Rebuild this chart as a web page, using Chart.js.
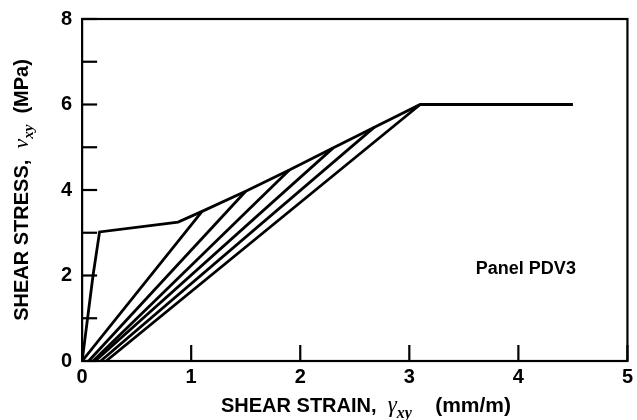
<!DOCTYPE html>
<html>
<head>
<meta charset="utf-8">
<script src="https://cdn.jsdelivr.net/npm/chart.js@4/dist/chart.umd.min.js"></script>
<style>
  html, body { margin: 0; padding: 0; background: #fff; }
  #wrap { width: 637px; height: 420px; }
</style>
</head>
<body>
<div id="wrap"><canvas id="shear"></canvas></div>
<script>
// envelope (loading) curve
const envStrain = [0, 0.05, 0.10, 0.16, 0.88, 1.10, 1.50, 1.90, 2.30, 2.68, 3.10, 4.50];
const envStress = [0, 1.00, 2.00, 3.02, 3.25, 3.50, 3.97, 4.47, 4.98, 5.47, 6.00, 6.00];

// unloading branches: peak -> residual strain at zero stress
const unloadPeakStrain = [1.10, 1.50, 1.90, 2.30, 2.68, 3.10];
const unloadPeakStress = [3.50, 3.97, 4.47, 4.98, 5.47, 6.00];
const unloadEndStrain  = [0.00, 0.06, 0.10, 0.12, 0.17, 0.22];

const xTicks = [0, 1, 2, 3, 4, 5];
const yTicks = [0, 1, 2, 3, 4, 5, 6, 7, 8];
const yLabelled = [0, 2, 4, 6, 8];

const panelLabel = 'Panel PDV3';

const sans = '"Liberation Sans", Arial, sans-serif';
const serif = '"Liberation Serif", "DejaVu Serif", serif';

function pts(xs, ys) {
  return xs.map((x, i) => ({ x: x, y: ys[i] }));
}

const datasets = [
  { data: pts(envStrain, envStress) }
];
for (let i = 0; i < unloadPeakStrain.length; i++) {
  datasets.push({ data: [
    { x: unloadPeakStrain[i], y: unloadPeakStress[i] },
    { x: unloadEndStrain[i], y: 0 }
  ] });
}
datasets.forEach(d => {
  d.borderColor = '#000';
  d.borderWidth = 2.8;
  d.pointRadius = 0;
  d.fill = false;
  d.tension = 0;
});

// draws box, inward ticks, axis titles and panel label
const decor = {
  id: 'decor',
  afterDraw(chart) {
    const ctx = chart.ctx;
    const a = chart.chartArea;
    const xs = chart.scales.x, ys = chart.scales.y;
    ctx.save();
    ctx.strokeStyle = '#000';
    ctx.lineWidth = 2.2;
    ctx.strokeRect(a.left, a.top, a.right - a.left, a.bottom - a.top);
    for (const v of xTicks) {
      const px = xs.getPixelForValue(v);
      ctx.beginPath(); ctx.moveTo(px, a.bottom); ctx.lineTo(px, a.bottom - 16); ctx.stroke();
    }
    for (const v of yTicks) {
      const py = ys.getPixelForValue(v);
      ctx.beginPath(); ctx.moveTo(a.left, py); ctx.lineTo(a.left + 15, py); ctx.stroke();
    }

    ctx.fillStyle = '#000';
    ctx.textBaseline = 'alphabetic';
    // x title
    const xSeg = [
      ['SHEAR STRAIN,  ', 'bold 20px ' + sans, 0],
      ['\u03B3', 'italic 23px ' + serif, 0],
      ['xy', 'italic bold 16px ' + serif, 6],
      ['    (mm/m)', 'bold 21px ' + sans, 0]
    ];
    drawSegs(ctx, xSeg, 366, 412, 0);
    // y title
    const ySeg = [
      ['SHEAR STRESS,  ', 'bold 20px ' + sans, 0],
      ['v', 'italic 22px ' + serif, 0],
      ['xy', 'italic bold 15px ' + serif, 5],
      ['  (MPa)', 'bold 20px ' + sans, 0]
    ];
    drawSegs(ctx, ySeg, 28, 190, -Math.PI / 2);

    ctx.font = 'bold 18px ' + sans;
    ctx.textAlign = 'left';
    ctx.textBaseline = 'middle';
    ctx.fillText(panelLabel, xs.getPixelForValue(3.61), ys.getPixelForValue(2.15));
    ctx.restore();
  }
};

function drawSegs(ctx, segs, cx, cy, rot) {
  let total = 0;
  for (const s of segs) { ctx.font = s[1]; total += ctx.measureText(s[0]).width; }
  ctx.save();
  ctx.translate(cx, cy);
  ctx.rotate(rot);
  ctx.textAlign = 'left';
  let x = -total / 2;
  for (const s of segs) {
    ctx.font = s[1];
    ctx.fillText(s[0], x, s[2]);
    x += ctx.measureText(s[0]).width;
  }
  ctx.restore();
}

new Chart(document.getElementById('shear'), {
  type: 'line',
  data: { datasets: datasets },
  plugins: [decor],
  options: {
    responsive: true,
    maintainAspectRatio: false,
    animation: false,
    layout: { padding: { left: 51, right: 6, top: 1, bottom: 27 } },
    plugins: { legend: { display: false }, tooltip: { enabled: false } },
    scales: {
      x: {
        type: 'linear', min: 0, max: 5,
        border: { display: false },
        grid: { display: false, drawTicks: false },
        ticks: {
          stepSize: 1, color: '#000', padding: 4,
          font: { family: sans, weight: 'bold', size: 20 }
        }
      },
      y: {
        type: 'linear', min: 0, max: 8,
        border: { display: false },
        grid: { display: false, drawTicks: false },
        ticks: {
          stepSize: 1, color: '#000', padding: 10,
          font: { family: sans, weight: 'bold', size: 20, lineHeight: 0.9 },
          callback: v => yLabelled.includes(v) ? String(v) : ''
        }
      }
    }
  }
});
</script>
</body>
</html>
